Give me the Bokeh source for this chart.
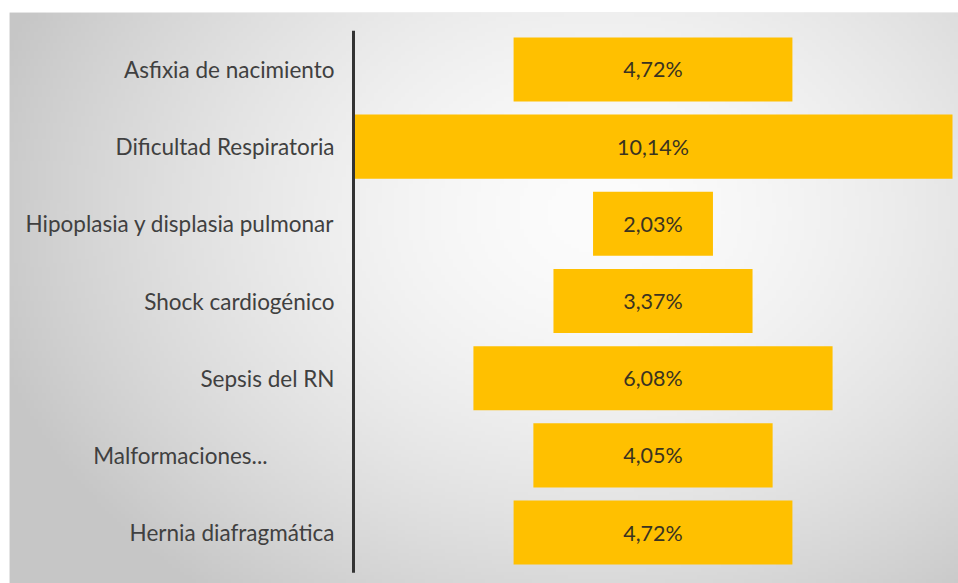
import numpy as np
from bokeh.plotting import figure
from bokeh.models import ColumnDataSource, Range1d
from bokeh.core.properties import value
from bokeh.embed import file_html
from bokeh.resources import INLINE

# ---- data ----
categories = [
    "Asfixia de nacimiento",
    "Dificultad Respiratoria",
    "Hipoplasia y displasia pulmonar",
    "Shock cardiogénico",
    "Sepsis del RN",
    "Malformaciones...",
    "Hernia diafragmática",
]
values = [4.72, 10.14, 2.03, 3.37, 6.08, 4.05, 4.72]
value_labels = ["4,72%", "10,14%", "2,03%", "3,37%", "6,08%", "4,05%", "4,72%"]

# ---- layout constants ----
W, H = 958, 583
border_left, border_top = 9, 12
frame_w = W - border_left
frame_h = H - border_top
bar_span_px = 599.0                     # pixel width of the largest bar
vmax = max(values)
px_per_unit = bar_span_px / vmax
half = vmax / 2.0
x_end = half + 6 / px_per_unit
x_start = x_end - frame_w / px_per_unit

n = len(categories)
y_start = (n - 1) + 0.5 + 0.16
y_end = -0.5 - 0.238

ys = list(range(n))
src = ColumnDataSource(dict(
    cat=categories,
    y=ys,
    left=[-v / 2 for v in values],
    right=[v / 2 for v in values],
    mid=[0.0] * n,
    lab=value_labels,
    lx=[-half - 19 / px_per_unit] * n,
    lxo=[(-67 if c == "Malformaciones..." else 0) for c in categories],
))

p = figure(width=W, height=H, output_backend="svg", toolbar_location=None,
           x_range=Range1d(x_start, x_end), y_range=Range1d(y_start, y_end),
           min_border_left=border_left, min_border_right=0,
           min_border_top=border_top, min_border_bottom=0)
p.outline_line_color = None
p.border_fill_color = "white"
p.background_fill_color = "#e2e2e2"
p.axis.visible = False
p.grid.visible = False

# background radial gradient (decoration)
gw, gh = 240, 150
gx = np.linspace(0, frame_w, gw)
gy = np.linspace(0, frame_h, gh)
GX, GY = np.meshgrid(gx, gy)
u = (GX - 590) / 620.0
v = (GY - 200) / 480.0
r = np.sqrt(u ** 2 + v ** 2)
b = np.clip(252 - 52 * r ** 1.6, 198, 252).astype(np.uint8)
img = np.empty((gh, gw), dtype=np.uint32)
view = img.view(dtype=np.uint8).reshape((gh, gw, 4))
view[:, :, 0] = b
view[:, :, 1] = b
view[:, :, 2] = b
view[:, :, 3] = 255
p.image_rgba(image=[img], x=x_start, y=y_end, dw=x_end - x_start, dh=y_start - y_end)

# bars
p.hbar(y="y", left="left", right="right", height=0.83, source=src,
       fill_color="#FFC000", line_color=None)

# axis line
p.segment(x0=-half, x1=-half, y0=-0.5, y1=n - 0.5 + 0.02, line_color="#333333", line_width=3)

# category labels
p.text(x="lx", y="y", text="cat", x_offset="lxo", source=src,
       text_align="right", text_baseline="middle",
       text_font=value("Lato"), text_font_size="22.5px", text_color="#404040")

# value labels
p.text(x="mid", y="y", text="lab", source=src,
       text_align="center", text_baseline="middle",
       text_font=value("Lato"), text_font_size="21.5px", text_color="#3a3320")

open("out.html", "w").write(file_html(p, INLINE))
